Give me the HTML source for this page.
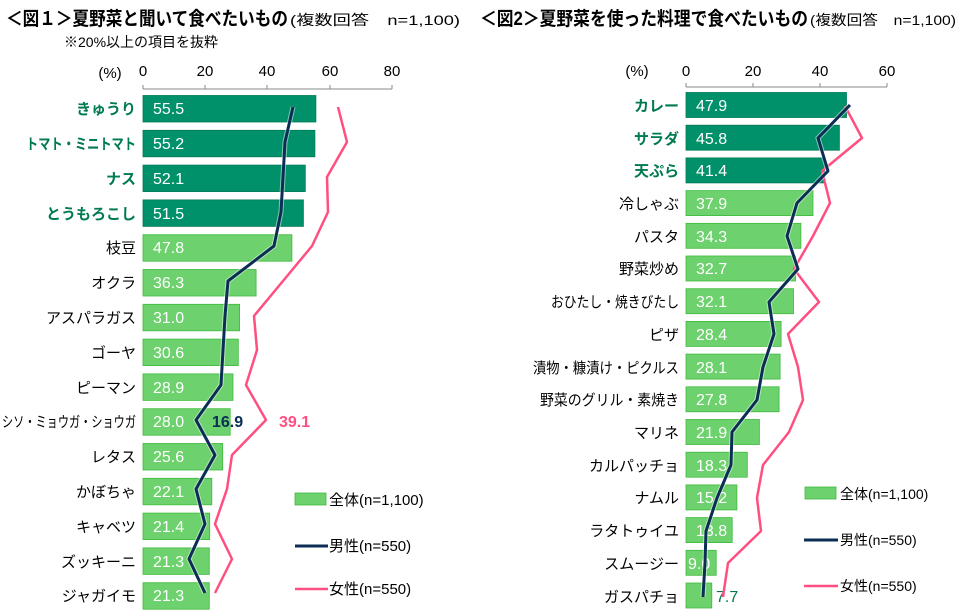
<!DOCTYPE html>
<html><head><meta charset="utf-8"><style>
body{margin:0;background:#fff;}
svg{display:block;font-family:"Liberation Sans","Noto Sans CJK JP",sans-serif;}
</style></head><body>
<svg width="960" height="616" viewBox="0 0 960 616" xmlns="http://www.w3.org/2000/svg">
<!-- titles -->
<text x="6" y="25" font-size="19" font-weight="bold" fill="#000" textLength="282" lengthAdjust="spacingAndGlyphs">＜図１＞夏野菜と聞いて食べたいもの</text>
<text x="290" y="25" font-size="14" fill="#000" textLength="170" lengthAdjust="spacingAndGlyphs">(複数回答　n=1,100)</text>
<text x="64" y="47" font-size="14" fill="#000">※20%以上の項目を抜粋</text>
<text x="480" y="25" font-size="19" font-weight="bold" fill="#000" textLength="328" lengthAdjust="spacingAndGlyphs">＜図2＞夏野菜を使った料理で食べたいもの</text>
<text x="810" y="25" font-size="14" fill="#000" textLength="146" lengthAdjust="spacingAndGlyphs">(複数回答　n=1,100)</text>

<!-- chart 1 axis -->
<g font-size="15" fill="#000" text-anchor="middle">
<text x="110" y="78">(%)</text>
<text x="143" y="76">0</text><text x="205" y="76">20</text><text x="267" y="76">40</text><text x="330" y="76">60</text><text x="392" y="76">80</text>
</g>
<g stroke="#888" stroke-width="1">
<line x1="143" y1="89" x2="392" y2="89"/>
<line x1="143" y1="85" x2="143" y2="89"/><line x1="205" y1="85" x2="205" y2="89"/><line x1="267" y1="85" x2="267" y2="89"/><line x1="330" y1="85" x2="330" y2="89"/><line x1="392" y1="85" x2="392" y2="89"/>
</g>
<g font-size="16">
<g fill="#00916a" stroke="#007a55" stroke-width="0.8">
<rect x="143" y="95.5" width="172.9" height="26.5"/>
<rect x="143" y="130.3" width="171.9" height="26.5"/>
<rect x="143" y="165.1" width="162.3" height="26.5"/>
<rect x="143" y="199.9" width="160.4" height="26.5"/>
</g>
<g fill="#6dd16d" stroke="#3cba3c" stroke-width="0.8">
<rect x="143" y="234.7" width="148.9" height="26.5"/>
<rect x="143" y="269.5" width="113.1" height="26.5"/>
<rect x="143" y="304.3" width="96.6" height="26.5"/>
<rect x="143" y="339.1" width="95.3" height="26.5"/>
<rect x="143" y="373.9" width="90.0" height="26.5"/>
<rect x="143" y="408.7" width="87.2" height="26.5"/>
<rect x="143" y="443.5" width="79.7" height="26.5"/>
<rect x="143" y="478.3" width="68.8" height="26.5"/>
<rect x="143" y="513.1" width="66.7" height="26.5"/>
<rect x="143" y="547.9" width="66.3" height="26.5"/>
<rect x="143" y="582.7" width="66.3" height="26.5"/>
</g>
<g fill="#fff">
<text x="153" y="114">55.5</text><text x="153" y="149">55.2</text><text x="153" y="184">52.1</text><text x="153" y="219">51.5</text>
<text x="153" y="253">47.8</text><text x="153" y="288">36.3</text><text x="153" y="323">31.0</text><text x="153" y="358">30.6</text>
<text x="153" y="393">28.9</text><text x="153" y="427">28.0</text><text x="153" y="462">25.6</text><text x="153" y="497">22.1</text>
<text x="153" y="532">21.4</text><text x="153" y="567">21.3</text><text x="153" y="601">21.3</text>
</g>
<g text-anchor="end" font-size="15">
<g fill="#007a50" font-weight="bold">
<text x="136" y="114">きゅうり</text>
<text x="136" y="149" textLength="110" lengthAdjust="spacingAndGlyphs">トマト・ミニトマト</text>
<text x="136" y="184">ナス</text><text x="136" y="219">とうもろこし</text>
</g>
<g fill="#000">
<text x="136" y="253">枝豆</text><text x="136" y="288">オクラ</text><text x="136" y="323">アスパラガス</text><text x="136" y="358">ゴーヤ</text>
<text x="136" y="393">ピーマン</text>
<text x="136" y="427" textLength="134" lengthAdjust="spacingAndGlyphs">シソ・ミョウガ・ショウガ</text>
<text x="136" y="462">レタス</text><text x="136" y="497">かぼちゃ</text>
<text x="136" y="532">キャベツ</text><text x="136" y="567">ズッキーニ</text><text x="136" y="601">ジャガイモ</text>
</g>
</g>
</g>
<polyline fill="none" stroke="#ff4f81" stroke-width="2.5" stroke-linejoin="round" points="338,107 347,142 327,177 328,212 312,246 283,281 254,316 257,350 246,385 266,420 232,455 227,489 215,524 232,559 215,593"/>
<polyline fill="none" stroke="#fff" stroke-width="5" stroke-opacity="0.5" points="293,107 285,142 283,177 281,212 274,246 228,281 225,316 223,350 221,385 196,420 215,455 196,489 205,524 189,559 205,593"/>
<polyline fill="none" stroke="#0b2e54" stroke-width="3" stroke-linejoin="round" points="293,107 285,142 283,177 281,212 274,246 228,281 225,316 223,350 221,385 196,420 215,455 196,489 205,524 189,559 205,593"/>
<text x="212" y="427" font-size="16" font-weight="bold" fill="#0b2e54">16.9</text>
<text x="279" y="427" font-size="16" font-weight="bold" fill="#ff4f81">39.1</text>
<!-- legend 1 -->
<rect x="295" y="493" width="31" height="12" fill="#6dd16d" stroke="#3cba3c" stroke-width="0.8"/>
<text x="329" y="505" font-size="15" fill="#000">全体(n=1,100)</text>
<line x1="295" y1="546" x2="328" y2="546" stroke="#0b2e54" stroke-width="3"/>
<text x="329" y="551" font-size="15" fill="#000">男性(n=550)</text>
<line x1="295" y1="589" x2="328" y2="589" stroke="#ff4f81" stroke-width="2.5"/>
<text x="329" y="594" font-size="15" fill="#000">女性(n=550)</text>

<!-- chart 2 axis -->
<g font-size="15" fill="#000" text-anchor="middle">
<text x="637" y="76">(%)</text>
<text x="686" y="76">0</text><text x="753" y="76">20</text><text x="820" y="76">40</text><text x="887" y="76">60</text>
</g>
<g stroke="#888" stroke-width="1">
<line x1="686" y1="87" x2="887" y2="87"/>
<line x1="686" y1="83" x2="686" y2="87"/><line x1="753" y1="83" x2="753" y2="87"/><line x1="820" y1="83" x2="820" y2="87"/><line x1="887" y1="83" x2="887" y2="87"/>
</g>
<g fill="#00916a" stroke="#007a55" stroke-width="0.8">
<rect x="686" y="92.5" width="160.5" height="25"/>
<rect x="686" y="125.2" width="153.4" height="25"/>
<rect x="686" y="157.9" width="138.7" height="25"/>
</g>
<g fill="#6dd16d" stroke="#3cba3c" stroke-width="0.8">
<rect x="686" y="190.6" width="127.0" height="25"/>
<rect x="686" y="223.3" width="114.9" height="25"/>
<rect x="686" y="256.0" width="109.5" height="25"/>
<rect x="686" y="288.7" width="107.5" height="25"/>
<rect x="686" y="321.4" width="95.1" height="25"/>
<rect x="686" y="354.1" width="94.1" height="25"/>
<rect x="686" y="386.8" width="93.1" height="25"/>
<rect x="686" y="419.5" width="73.4" height="25"/>
<rect x="686" y="452.2" width="61.3" height="25"/>
<rect x="686" y="484.9" width="50.9" height="25"/>
<rect x="686" y="517.6" width="46.2" height="25"/>
<rect x="686" y="550.3" width="30.2" height="25"/>
<rect x="686" y="583.0" width="25.8" height="25"/>
</g>
<g fill="#fff" font-size="16">
<text x="696" y="111">47.9</text><text x="696" y="144">45.8</text><text x="696" y="176">41.4</text><text x="696" y="209">37.9</text>
<text x="696" y="242">34.3</text><text x="696" y="274">32.7</text><text x="696" y="307">32.1</text><text x="696" y="340">28.4</text>
<text x="696" y="373">28.1</text><text x="696" y="405">27.8</text><text x="696" y="438">21.9</text><text x="696" y="471">18.3</text>
<text x="696" y="503">15.2</text><text x="696" y="536">13.8</text><text x="688" y="569">9.0</text>
</g>
<text x="716" y="602" font-size="16" fill="#007a50">7.7</text>
<g text-anchor="end" font-size="15">
<g fill="#007a50" font-weight="bold">
<text x="679" y="111">カレー</text><text x="679" y="144">サラダ</text><text x="679" y="176">天ぷら</text>
</g>
<g fill="#000">
<text x="679" y="209">冷しゃぶ</text><text x="679" y="242">パスタ</text><text x="679" y="274">野菜炒め</text>
<text x="679" y="307" textLength="128" lengthAdjust="spacingAndGlyphs">おひたし・焼きびたし</text>
<text x="679" y="340">ピザ</text>
<text x="679" y="373" textLength="146" lengthAdjust="spacingAndGlyphs">漬物・糠漬け・ピクルス</text>
<text x="679" y="405" textLength="139" lengthAdjust="spacingAndGlyphs">野菜のグリル・素焼き</text>
<text x="679" y="438">マリネ</text>
<text x="679" y="471">カルパッチョ</text><text x="679" y="503">ナムル</text><text x="679" y="536">ラタトゥイユ</text><text x="679" y="569">スムージー</text><text x="679" y="602">ガスパチョ</text>
</g>
</g>
<polyline fill="none" stroke="#ff4f81" stroke-width="2.5" stroke-linejoin="round" points="845,106 862,138 822,171 830,203 813,236 794,269 819,302 788,334 798,367 803,400 789,432 763,465 757,498 761,531 728,563 723,597"/>
<polyline fill="none" stroke="#fff" stroke-width="5" stroke-opacity="0.5" points="850,105 818,138 828,171 797,203 787,236 798,269 769,302 774,334 763,367 757,400 732,432 731,465 717,498 706,531 705,563 703,597"/>
<polyline fill="none" stroke="#0b2e54" stroke-width="3" stroke-linejoin="round" points="850,105 818,138 828,171 797,203 787,236 798,269 769,302 774,334 763,367 757,400 732,432 731,465 717,498 706,531 705,563 703,597"/>
<!-- legend 2 -->
<rect x="805" y="487" width="31" height="12" fill="#6dd16d" stroke="#3cba3c" stroke-width="0.8"/>
<text x="840" y="499" font-size="14" fill="#000">全体(n=1,100)</text>
<line x1="804" y1="540" x2="838" y2="540" stroke="#0b2e54" stroke-width="3"/>
<text x="840" y="545" font-size="14" fill="#000">男性(n=550)</text>
<line x1="804" y1="586" x2="838" y2="586" stroke="#ff4f81" stroke-width="2.5"/>
<text x="840" y="591" font-size="14" fill="#000">女性(n=550)</text>
</svg>
</body></html>
